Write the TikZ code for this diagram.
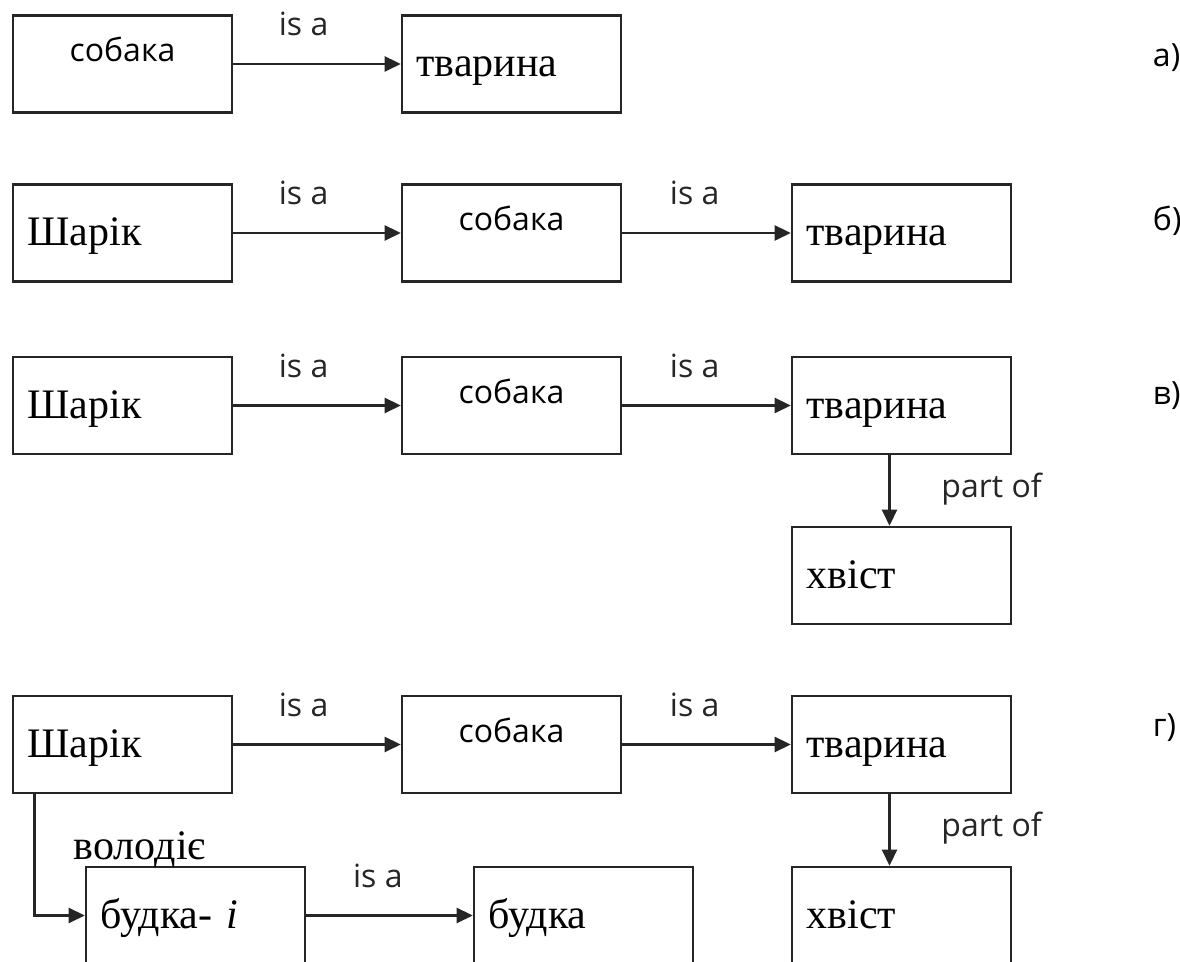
\documentclass[tikz,border=0pt]{standalone}
\usepackage{fontspec}
\setmainfont{Liberation Serif}
\newfontfamily\labelfont{Open Sans}
\usetikzlibrary{arrows.meta}
\colorlet{colLine}{black!85}

\begin{document}
\begin{tikzpicture}[x=0.5pt, y=-0.5pt, >={Triangle[length=8pt, width=7.5pt]}, line width=1.3pt,
    box/.style={draw=colLine, rectangle, minimum width=109.5pt, minimum height=48.5pt, inner sep=0pt},
    concept/.style={box, font=\labelfont\fontsize{16}{18}\selectfont, text height=8pt, text depth=10pt},
    item/.style={box, font=\fontsize{21}{23}\selectfont, text width=95pt, align=left, inner xsep=7.25pt, text height=13pt, text depth=0pt},
    rel/.style={font=\labelfont\fontsize{16}{18}\selectfont, anchor=base, yshift=14pt},
    partof/.style={font=\labelfont\fontsize{16}{18}\selectfont, anchor=base west, xshift=22pt, yshift=-3.5pt},
    tag/.style={font=\labelfont\fontsize{16}{18}\selectfont, anchor=west}]
        \clip (0, 0) rectangle (1180, 962);

        % а)
        \node[concept] (sobaka1) at (122.5, 64) {собака};
        \node[item] (tvaryna1) at (511.5, 64) {тварина};
        \draw[->, colLine] (sobaka1) -- node[rel, pos=0.42] {is a} (tvaryna1);
        \node[tag] (tagA) at (1145, 58) {а)};

        % б)
        \node[item] (sharik2) at (122.5, 233) {Шарік};
        \node[concept] (sobaka2) at (511.5, 233) {собака};
        \node[item] (tvaryna2) at (901.5, 233) {тварина};
        \draw[->, colLine] (sharik2) -- node[rel, pos=0.42] {is a} (sobaka2);
        \draw[->, colLine] (sobaka2) -- node[rel, pos=0.43] {is a} (tvaryna2);
        \node[tag] (tagB) at (1145, 221) {б)};

        % в)
        \node[item] (sharik3) at (122.5, 405.5) {Шарік};
        \node[concept] (sobaka3) at (511.5, 405.5) {собака};
        \node[item] (tvaryna3) at (901.5, 405.5) {тварина};
        \node[item] (tail3) at (901.5, 575.5) {хвіст};
        \draw[->, colLine] (sharik3) -- node[rel, pos=0.42] {is a} (sobaka3);
        \draw[->, colLine] (sobaka3) -- node[rel, pos=0.43] {is a} (tvaryna3);
        \draw[->, colLine] ([xshift=-6pt]tvaryna3.south) -- node[partof] {part of} ([xshift=-6pt]tail3.north);
        \node[tag] (tagC) at (1145, 396) {в)};

        % г)
        \node[item] (sharik4) at (122.5, 744.5) {Шарік};
        \node[concept] (sobaka4) at (511.5, 744.5) {собака};
        \node[item] (tvaryna4) at (901.5, 744.5) {тварина};
        \node[item] (tail4) at (901.5, 915.5) {хвіст};
        \node[item] (budkai) at (195.5, 915.5) {будка- \textit{i}};
        \node[item] (budka) at (583.5, 915.5) {будка};
        \draw[->, colLine] (sharik4) -- node[rel, pos=0.42] {is a} (sobaka4);
        \draw[->, colLine] (sobaka4) -- node[rel, pos=0.43] {is a} (tvaryna4);
        \draw[->, colLine] ([xshift=-6pt]tvaryna4.south) -- node[partof] {part of} ([xshift=-6pt]tail4.north);
        \draw[->, colLine] (sharik4.south west) ++(23, 0) |- (budkai);
        \node[font=\fontsize{21}{23}\selectfont, anchor=base west] (owns) at (66, 860) {володіє};
        \draw[->, colLine] (budkai) -- node[rel, pos=0.43] {is a} (budka);
        \node[tag] (tagD) at (1145, 728) {г)};
    \end{tikzpicture}
\end{document}
